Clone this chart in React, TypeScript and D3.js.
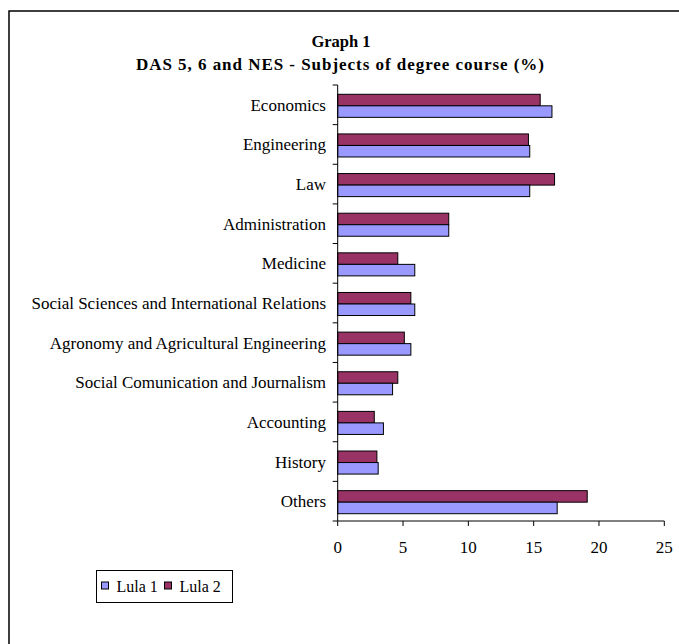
import React from "react";
import * as d3 from "d3";

const categories = [
  "Economics",
  "Engineering",
  "Law",
  "Administration",
  "Medicine",
  "Social Sciences and International Relations",
  "Agronomy and Agricultural Engineering",
  "Social Comunication and Journalism",
  "Accounting",
  "History",
  "Others",
];
const lula1 = [16.4, 14.7, 14.7, 8.5, 5.9, 5.9, 5.6, 4.2, 3.5, 3.1, 16.8];
const lula2 = [15.5, 14.6, 16.6, 8.5, 4.6, 5.6, 5.1, 4.6, 2.8, 3.0, 19.1];
const seriesNames = ["Lula 1", "Lula 2"];
const seriesColors = ["#9999FF", "#993366"];
const xTicks = [0, 5, 10, 15, 20, 25];

const W = 679;
const H = 644;
const FONT = "'Liberation Serif', 'Times New Roman', serif";

export default function App() {
  const x = d3.scaleLinear().domain([0, 25]).range([337.7, 664.3]);
  const y = d3.scaleBand<string>().domain(categories).range([85, 521]).padding(0);
  const sub = d3
    .scaleBand<string>()
    .domain(["Lula 2", "Lula 1"])
    .range([0, y.bandwidth()])
    .paddingInner(0)
    .paddingOuter(0.72);
  const x0 = x(0);
  const [yTop, yBot] = y.range();

  const boundaries = categories.map((c) => y(c) as number).concat([yBot]);

  return (
    <svg
      width={W}
      height={H}
      style={{ position: "fixed", left: 0, top: 0, background: "#fff" }}
      fontFamily={FONT}
    >
      <rect x={0} y={0} width={W} height={H} fill="#fff" />
      <rect x={9} y={11} width={900} height={900} fill="none" stroke="#000" strokeWidth={1.5} />

      <text x={341} y={47} textAnchor="middle" fontSize={16.5} fontWeight="bold">
        Graph 1
      </text>
      <text
        x={340}
        y={70}
        textAnchor="middle"
        fontSize={17}
        fontWeight="bold"
        textLength={408}
        lengthAdjust="spacing"
      >
        DAS 5, 6 and NES - Subjects of degree course (%)
      </text>

      {categories.map((c, i) => {
        const b = (y(c) as number) + 1;
        return (
          <g key={c}>
            <rect
              x={x0}
              y={b + (sub("Lula 2") as number)}
              width={x(lula2[i]) - x0}
              height={sub.bandwidth()}
              fill={seriesColors[1]}
              stroke="#000"
              strokeWidth={1}
            />
            <rect
              x={x0}
              y={b + (sub("Lula 1") as number)}
              width={x(lula1[i]) - x0}
              height={sub.bandwidth()}
              fill={seriesColors[0]}
              stroke="#000"
              strokeWidth={1}
            />
            <text
              x={326}
              y={(y(c) as number) + y.bandwidth() / 2 + 6}
              textAnchor="end"
              fontSize={17}
            >
              {c}
            </text>
          </g>
        );
      })}

      <line x1={x0} x2={x0} y1={yTop} y2={yBot} stroke="#000" strokeWidth={1} />
      {boundaries.map((b, i) => (
        <line key={i} x1={x0 - 5} x2={x0} y1={b} y2={b} stroke="#000" strokeWidth={1} />
      ))}
      <line x1={x0} x2={x(25)} y1={yBot} y2={yBot} stroke="#000" strokeWidth={1} />
      {xTicks.map((t) => (
        <g key={t}>
          <line x1={x(t)} x2={x(t)} y1={yBot} y2={yBot + 5} stroke="#000" strokeWidth={1} />
          <text x={x(t)} y={553} textAnchor="middle" fontSize={17}>
            {t}
          </text>
        </g>
      ))}

      <rect x={96.5} y={570.5} width={136} height={32} fill="#fff" stroke="#000" strokeWidth={1} />
      {seriesNames.map((s, i) => {
        const sx = i === 0 ? 101.5 : 164.5;
        return (
          <g key={s}>
            <rect x={sx} y={582} width={7} height={7} fill={seriesColors[i]} stroke="#000" strokeWidth={1} />
            <text x={sx + 15} y={592} fontSize={16}>
              {s}
            </text>
          </g>
        );
      })}
    </svg>
  );
}
